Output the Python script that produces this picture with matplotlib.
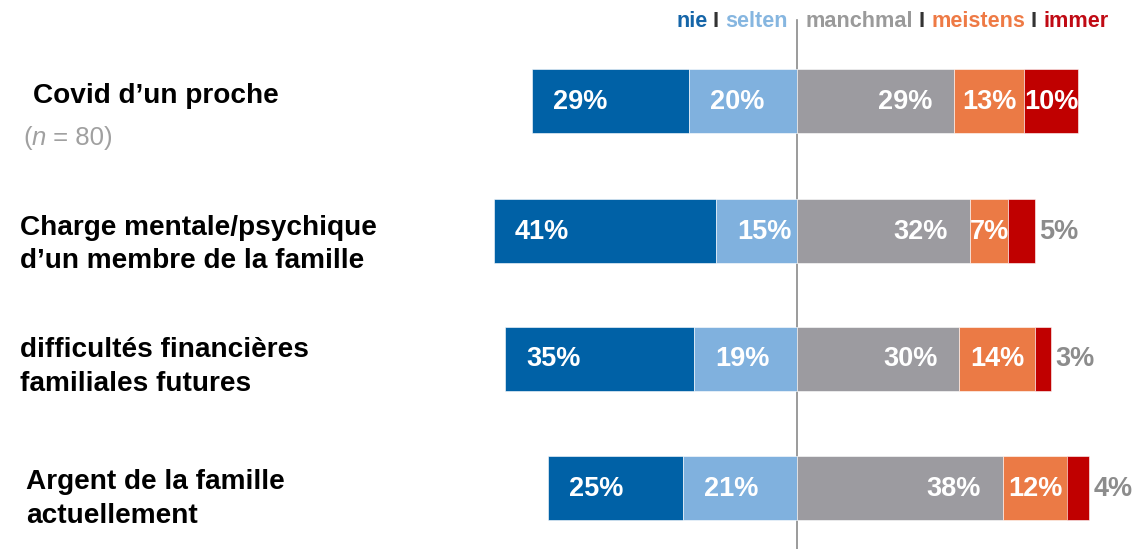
import numpy as np
import matplotlib.pyplot as plt
from matplotlib.transforms import blended_transform_factory

# Données
categories = [
    ["Covid d’un proche"],
    ["Charge mentale/psychique", "d’un membre de la famille"],
    ["difficultés financières", "familiales futures"],
    ["Argent de la famille", "actuellement"],
]
levels = ["nie", "selten", "manchmal", "meistens", "immer"]
nie = [29, 41, 35, 25]
selten = [20, 15, 19, 21]
manchmal = [29, 32, 30, 38]
meistens = [13, 7, 14, 12]
immer = [10, 5, 3, 4]
n_label = "80"

colors = {"nie": "#0061a6", "selten": "#80b1de", "manchmal": "#9c9ba0",
          "meistens": "#eb7a45", "immer": "#c00000"}
legend_colors = {"nie": "#1565a8", "selten": "#86b6e0", "manchmal": "#9a9a9a",
                 "meistens": "#ee7a45", "immer": "#c00a14"}

plt.rcParams['font.family'] = ['Liberation Sans', 'DejaVu Sans']

W, H = 1132, 549
CX = 797          # position du zéro en pixels
SCALE = 5.41      # pixels par pourcent
ypos = [101, 231, 358.5, 488]
bar_h = 64

fig = plt.figure(figsize=(W / 100, H / 100), dpi=100)
ax = fig.add_axes([0, 0, 1, 1])
ax.set_xlim(-CX / SCALE, (W - CX) / SCALE)
ax.set_ylim(H, 0)
ax.axis("off")
tr = blended_transform_factory(ax.transAxes, ax.transData)

# Ligne centrale
ax.plot([0, 0], [20, H], color="#8a8a8a", lw=1.2, zorder=1)

nie_a, sel_a = np.array(nie), np.array(selten)
man_a, mei_a, imm_a = np.array(manchmal), np.array(meistens), np.array(immer)

segs = [
    ("nie", -(sel_a + nie_a), nie_a),
    ("selten", -sel_a, sel_a),
    ("manchmal", np.zeros(4), man_a),
    ("meistens", man_a, mei_a),
    ("immer", man_a + mei_a, imm_a),
]
for name, left, width in segs:
    ax.barh(ypos, width, left=left, height=bar_h, color=colors[name],
            edgecolor="white", linewidth=0.4, zorder=2)

lab_kw = dict(fontsize=19.5, fontweight="bold", va="center", zorder=3,
              textcoords="offset pixels")
for i, y in enumerate(ypos):
    # nie / selten : alignés à gauche
    ax.annotate(f"{nie[i]}%", xy=(-(nie[i] + selten[i]), y + 1), xytext=(21, 0),
                ha="left", color="white", **lab_kw)
    ax.annotate(f"{selten[i]}%", xy=(-selten[i], y + 1), xytext=(21, 0),
                ha="left", color="white", **lab_kw)
    # manchmal : aligné à droite
    ax.annotate(f"{manchmal[i]}%", xy=(manchmal[i], y + 1), xytext=(-22, 0),
                ha="right", color="white", **lab_kw)
    # meistens : centré
    ax.annotate(f"{meistens[i]}%", xy=(manchmal[i] + meistens[i] / 2, y + 1),
                xytext=(0, 0), ha="center", color="white", **lab_kw)
    # immer : centré ou à l'extérieur
    end = manchmal[i] + meistens[i] + immer[i]
    if immer[i] >= 6:
        ax.annotate(f"{immer[i]}%", xy=(end - immer[i] / 2, y + 1), xytext=(0, 0),
                    ha="center", color="white", **lab_kw)
    else:
        ax.annotate(f"{immer[i]}%", xy=(end, y + 1), xytext=(4, 0),
                    ha="left", color="#8c8c8c", **lab_kw)

# Étiquettes des lignes
label_x = [33, 20, 20, 26]
label_base = [[103], [235, 268], [357, 391], [489, 523]]
for lines, x, bases in zip(categories, label_x, label_base):
    for line, b in zip(lines, bases):
        ax.text(x / W, b, line, transform=tr, fontsize=20.2, fontweight="bold",
                color="black", va="baseline", ha="left")

# (n = 80)
t = ax.text(23 / W, 145, "(", transform=tr, fontsize=18.5, color="#a0a0a0",
            va="baseline", ha="left")
t = ax.annotate("n", xy=(1, 0), xycoords=t, fontsize=18.5, color="#a0a0a0",
                style="italic", va="bottom", ha="left")
ax.annotate(f" = {n_label})", xy=(1, 0), xycoords=t, fontsize=18.5,
            color="#a0a0a0", va="bottom", ha="left")

# Légende en haut
pieces = [("nie", legend_colors["nie"]), (" I ", "#333333"),
          ("selten", legend_colors["selten"]), ("   ", "white"),
          ("manchmal", legend_colors["manchmal"]), (" I ", "#333333"),
          ("meistens", legend_colors["meistens"]), (" I ", "#333333"),
          ("immer", legend_colors["immer"])]
prev = None
for txt, col in pieces:
    if prev is None:
        prev = ax.text(676 / W, 27, txt, transform=tr, fontsize=15.6,
                       fontweight="bold", color=col, va="baseline", ha="left")
    else:
        prev = ax.annotate(txt, xy=(1, 0), xycoords=prev, fontsize=15.6,
                           fontweight="bold", color=col, va="bottom", ha="left")

fig.savefig("out.png", dpi=100)
